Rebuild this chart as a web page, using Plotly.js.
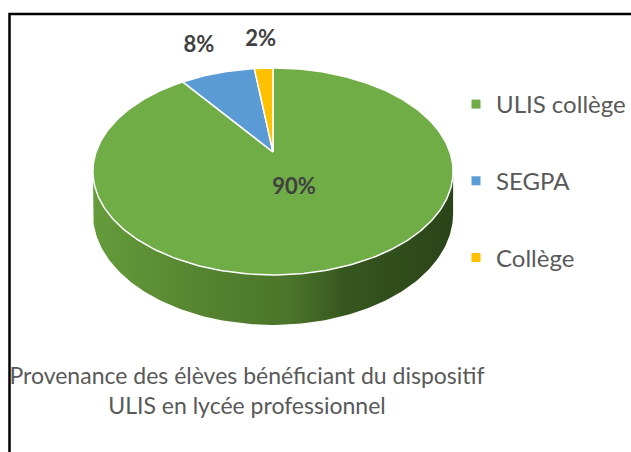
<!DOCTYPE html>
<html>
<head>
<meta charset="utf-8">
<script src="https://cdn.plot.ly/plotly-3.0.1.min.js"></script>
<style>html,body{margin:0;padding:0;background:#fff;}#chart{width:631px;height:452px;}</style>
</head>
<body>
<div id="chart"></div>
<script>
// ---- data ----
const labels = ['ULIS collège', 'SEGPA', 'Collège'];
const values = [90, 8, 2];
const sliceColors = ['#70AD47', '#5B9BD5', '#FFC000'];
const percentText = ['90%', '8%', '2%'];
const titleText = 'Provenance des élèves bénéficiant du dispositif<br>ULIS en lycée professionnel';

// ---- 3D pie projection settings (pixel-unit axes) ----
const CX = 273, CY = 152, A = 176.9, B = 99.8, K = 0.188, DEPTH = 40.6;
const labelRadius = [0.36, 1.42, 1.42];
const FONT = 'Lato, "Open Sans", sans-serif';

function proj(deg, r, dz) {
  const t = deg * Math.PI / 180;
  const u = r * Math.sin(t), v = r * Math.cos(t);
  const s = 1 / (1 + K * v);
  return [CX + A * u * s, CY - B * v * s + DEPTH * dz * s];
}
function arc(a0, a1, dz) {
  const xs = [], ys = [];
  const n = Math.max(2, Math.ceil(Math.abs(a1 - a0) / 1));
  for (let i = 0; i <= n; i++) {
    const p = proj(a0 + (a1 - a0) * i / n, 1, dz);
    xs.push(p[0]); ys.push(p[1]);
  }
  return [xs, ys];
}

const total = values.reduce((a, b) => a + b, 0);
const traces = [];

// side wall (front half, between silhouettes)
const sil = Math.acos(-K) * 180 / Math.PI;
const topArc = arc(sil, 360 - sil, 0);
const botArc = arc(360 - sil, sil, 1);
traces.push({
  type: 'scatter', mode: 'lines', fill: 'toself',
  x: topArc[0].concat(botArc[0]), y: topArc[1].concat(botArc[1]),
  line: {width: 0, color: 'rgba(0,0,0,0)'},
  fillgradient: {type: 'horizontal', colorscale: [
    [0, '#659c3b'], [0.3, '#568431'], [0.55, '#4a742a'], [0.7, '#36561f'], [1, '#2a4419']
  ]},
  hoverinfo: 'skip', showlegend: false
});

// top face slices
let cum = 0;
const labX = [], labY = [];
values.forEach((v, i) => {
  const a0 = cum / total * 360, a1 = (cum + v) / total * 360;
  const ar = arc(a0, a1, 0);
  traces.push({
    type: 'scatter', mode: 'lines', fill: 'toself',
    x: [CX].concat(ar[0], [CX]), y: [CY].concat(ar[1], [CY]),
    fillcolor: sliceColors[i],
    line: {color: '#ffffff', width: 1.5},
    hoverinfo: 'skip', showlegend: false
  });
  const p = proj((a0 + a1) / 2, labelRadius[i], 0);
  labX.push(p[0]); labY.push(p[1]);
  cum += v;
});

// data labels
traces.push({
  type: 'scatter', mode: 'text', x: labX, y: labY, text: percentText,
  textfont: {family: FONT, size: 22, color: '#404040', weight: 'bold'},
  hoverinfo: 'skip', showlegend: false
});

// legend entries
labels.forEach((l, i) => {
  traces.push({
    type: 'scatter', mode: 'markers', x: [null], y: [null], name: l,
    legendgroup: 'g' + i,
    marker: {symbol: 'square', size: 9, color: sliceColors[i]},
    hoverinfo: 'skip'
  });
});

const layout = {
  width: 631, height: 452, autosize: false,
  margin: {l: 0, r: 0, t: 0, b: 0, pad: 0},
  paper_bgcolor: '#ffffff', plot_bgcolor: '#ffffff',
  xaxis: {range: [0, 631], visible: false, fixedrange: true},
  yaxis: {range: [452, 0], visible: false, fixedrange: true},
  showlegend: true,
  legend: {
    x: 456 / 631, y: 1 - 82 / 452, xanchor: 'left', yanchor: 'top',
    font: {family: FONT, size: 24, color: '#595959'},
    traceorder: 'grouped', tracegroupgap: 42.5,
    bgcolor: 'rgba(0,0,0,0)', borderwidth: 0
  },
  title: {
    text: titleText, x: 247 / 631, xanchor: 'center',
    yref: 'container', y: 1 - 384 / 452, yanchor: 'top',
    font: {family: FONT, size: 23, color: '#595959'}
  },
  shapes: [{
    type: 'rect', xref: 'x', yref: 'y', x0: 9.5, y0: 14, x1: 700, y1: 520,
    line: {color: '#000000', width: 2.5}, fillcolor: 'rgba(0,0,0,0)', layer: 'above'
  }]
};

Plotly.newPlot('chart', traces, layout, {displayModeBar: false, staticPlot: true});
</script>
</body>
</html>
